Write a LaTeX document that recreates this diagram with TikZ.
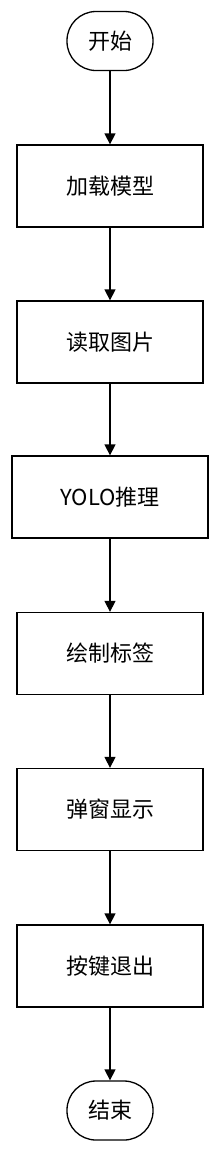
\documentclass[tikz,border=0pt]{standalone}
\usepackage{fontspec}
\setmainfont{Noto Sans CJK SC}
\usetikzlibrary{arrows.meta}
\begin{document}
\begin{tikzpicture}[x=1pt,y=-1pt,>={Triangle[width=11pt,length=11pt]},line width=1.3pt,
  every node/.style={font=\fontsize{22}{24}\selectfont,draw,align=center,inner sep=0pt},
  stepbox/.style={rectangle,minimum width=186pt,minimum height=82pt},
  endbox/.style={rectangle,rounded corners=29pt,minimum width=86pt,minimum height=59pt}]
  \useasboundingbox (0,0) rectangle (220,1152);
  \node[endbox] (start) at (110,41) {开始};
  \node[stepbox] (load) at (110,186) {加载模型};
  \node[stepbox] (read) at (110,342) {读取图片};
  \node[stepbox,minimum width=196pt] (infer) at (110,497) {YOLO推理};
  \node[stepbox] (label) at (110,653.5) {绘制标签};
  \node[stepbox] (show) at (110,809.5) {弹窗显示};
  \node[stepbox] (quit) at (110,966) {按键退出};
  \node[endbox] (stop) at (110,1110.5) {结束};
  \draw[->] (start)--(load);
  \draw[->] (load)--(read);
  \draw[->] (read)--(infer);
  \draw[->] (infer)--(label);
  \draw[->] (label)--(show);
  \draw[->] (show)--(quit);
  \draw[->] (quit)--(stop);
\end{tikzpicture}
\end{document}
